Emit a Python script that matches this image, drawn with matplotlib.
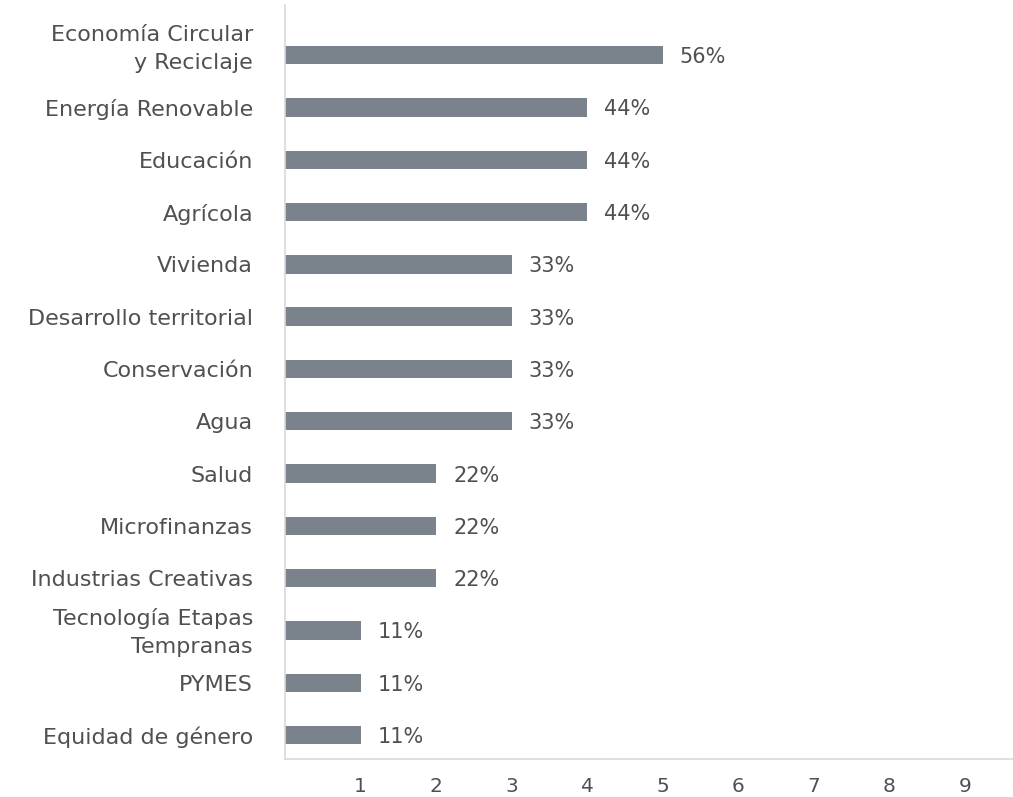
import matplotlib
matplotlib.use("Agg")
import matplotlib.pyplot as plt
from matplotlib.transforms import ScaledTranslation

categories = ["Economía Circular\ny Reciclaje", "Energía Renovable", "Educación", "Agrícola",
              "Vivienda", "Desarrollo territorial", "Conservación", "Agua", "Salud",
              "Microfinanzas", "Industrias Creativas", "Tecnología Etapas\nTempranas",
              "PYMES", "Equidad de género"]
values = [5, 4, 4, 4, 3, 3, 3, 3, 2, 2, 2, 1, 1, 1]
pct_labels = ["56%", "44%", "44%", "44%", "33%", "33%", "33%", "33%", "22%", "22%", "22%",
              "11%", "11%", "11%"]
xticks = [1, 2, 3, 4, 5, 6, 7, 8, 9]

plt.rcParams['font.family'] = ['DejaVu Sans']
text_color = "#505050"

fig = plt.figure(figsize=(10.13, 7.97), dpi=100)
ax = fig.add_axes([285/1013, 38/797, 1 - 285/1013, (759-5)/797])

ypos = list(range(len(categories)))
ax.barh(ypos, values, height=0.35, color="#7a828c")
for y, v, lab in zip(ypos, values, pct_labels):
    ax.annotate(lab, (v, y), xytext=(17, -2), textcoords="offset pixels",
                va="center", ha="left", fontsize=15, color=text_color)

ax.set_yticks(ypos)
ax.set_yticklabels(categories, fontsize=16, color=text_color, linespacing=1.5)
ax.set_xticks(xticks)
ax.set_xticklabels([str(t) for t in xticks], fontsize=14.5, color=text_color)
ax.set_xlim(0, 9.64)
ax.set_ylim(13.46, -0.96)
ax.tick_params(axis="y", length=0, pad=23)
ax.tick_params(axis="x", length=0, pad=13)

# nudge the two-line labels upward as in the reference
shifts = {0: 12, 11: 4}
for i, lbl in enumerate(ax.get_yticklabels()):
    if i in shifts:
        lbl.set_transform(lbl.get_transform() +
                          ScaledTranslation(0, shifts[i] / 100, fig.dpi_scale_trans))

for s in ["top", "right"]:
    ax.spines[s].set_visible(False)
for s in ["left", "bottom"]:
    ax.spines[s].set_color("#d9d9d9")
    ax.spines[s].set_linewidth(1.2)

fig.savefig("out.png", dpi=100)
